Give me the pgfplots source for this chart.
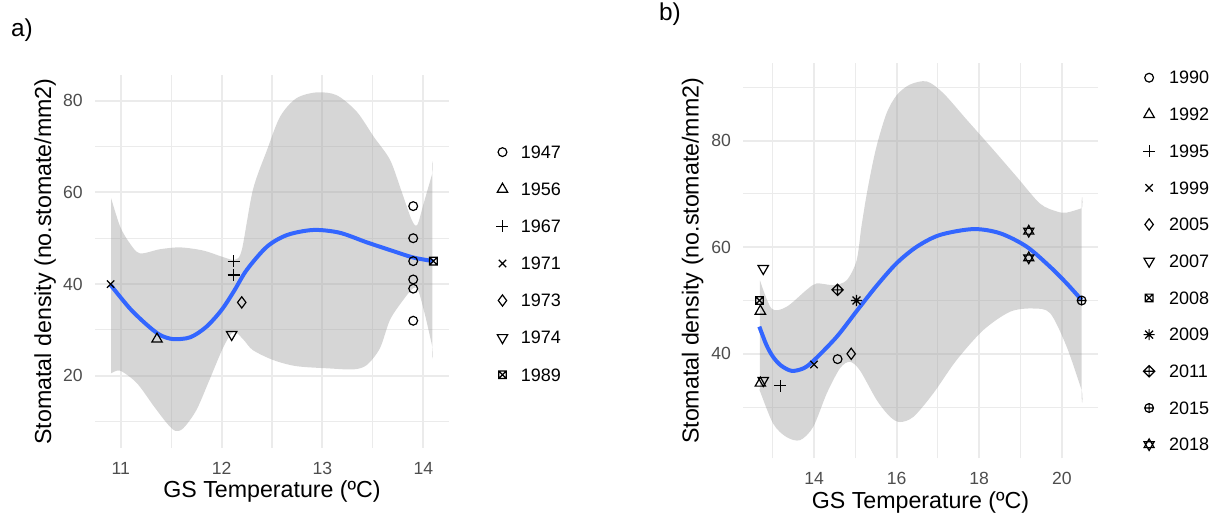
\documentclass[border=0pt]{standalone}
\usepackage{fontspec}
\setmainfont{Liberation Sans}
\usepackage{pgfplots}
\pgfplotsset{compat=1.18}

\definecolor{gridc}{HTML}{EBEBEB}
\definecolor{ticktxt}{HTML}{4D4D4D}
\definecolor{smoothc}{HTML}{3366FF}
\definecolor{bandc}{HTML}{999999}

% ggplot shapes that pgfplots lacks
\pgfdeclareplotmark{dtri}{%
  \pgfpathmoveto{\pgfqpointpolar{-90}{\pgfplotmarksize}}%
  \pgfpathlineto{\pgfqpointpolar{30}{\pgfplotmarksize}}%
  \pgfpathlineto{\pgfqpointpolar{150}{\pgfplotmarksize}}%
  \pgfpathclose\pgfusepathqstroke}
\pgfdeclareplotmark{sqx}{%
  \pgfpathrectangle{\pgfqpoint{-\pgfplotmarksize}{-\pgfplotmarksize}}{\pgfqpoint{2\pgfplotmarksize}{2\pgfplotmarksize}}%
  \pgfpathmoveto{\pgfqpoint{-\pgfplotmarksize}{-\pgfplotmarksize}}\pgfpathlineto{\pgfqpoint{\pgfplotmarksize}{\pgfplotmarksize}}%
  \pgfpathmoveto{\pgfqpoint{-\pgfplotmarksize}{\pgfplotmarksize}}\pgfpathlineto{\pgfqpoint{\pgfplotmarksize}{-\pgfplotmarksize}}%
  \pgfusepathqstroke}
\pgfdeclareplotmark{ast8}{%
  \pgfpathmoveto{\pgfqpointpolar{0}{\pgfplotmarksize}}\pgfpathlineto{\pgfqpointpolar{180}{\pgfplotmarksize}}%
  \pgfpathmoveto{\pgfqpointpolar{45}{\pgfplotmarksize}}\pgfpathlineto{\pgfqpointpolar{225}{\pgfplotmarksize}}%
  \pgfpathmoveto{\pgfqpointpolar{90}{\pgfplotmarksize}}\pgfpathlineto{\pgfqpointpolar{270}{\pgfplotmarksize}}%
  \pgfpathmoveto{\pgfqpointpolar{135}{\pgfplotmarksize}}\pgfpathlineto{\pgfqpointpolar{315}{\pgfplotmarksize}}%
  \pgfusepathqstroke}
\pgfdeclareplotmark{dplus}{%
  \pgfpathmoveto{\pgfqpoint{0pt}{\pgfplotmarksize}}\pgfpathlineto{\pgfqpoint{\pgfplotmarksize}{0pt}}%
  \pgfpathlineto{\pgfqpoint{0pt}{-\pgfplotmarksize}}\pgfpathlineto{\pgfqpoint{-\pgfplotmarksize}{0pt}}\pgfpathclose
  \pgfpathmoveto{\pgfqpoint{0pt}{\pgfplotmarksize}}\pgfpathlineto{\pgfqpoint{0pt}{-\pgfplotmarksize}}%
  \pgfpathmoveto{\pgfqpoint{\pgfplotmarksize}{0pt}}\pgfpathlineto{\pgfqpoint{-\pgfplotmarksize}{0pt}}%
  \pgfusepathqstroke}
\pgfdeclareplotmark{david}{%
  \pgfpathmoveto{\pgfqpointpolar{90}{\pgfplotmarksize}}\pgfpathlineto{\pgfqpointpolar{210}{\pgfplotmarksize}}%
  \pgfpathlineto{\pgfqpointpolar{330}{\pgfplotmarksize}}\pgfpathclose
  \pgfpathmoveto{\pgfqpointpolar{270}{\pgfplotmarksize}}\pgfpathlineto{\pgfqpointpolar{30}{\pgfplotmarksize}}%
  \pgfpathlineto{\pgfqpointpolar{150}{\pgfplotmarksize}}\pgfpathclose
  \pgfusepathqstroke}

\pgfplotsset{
  panel/.style={
    scale only axis,
    axis line style={draw=none},
    major tick length=0pt, minor tick length=0pt,
    grid=both,
    major grid style={draw=gridc, line width=1pt},
    minor grid style={draw=gridc, line width=0.55pt},
    tick label style={font=\fontsize{8.8}{10}\selectfont, text=ticktxt},
    /pgf/number format/assume math mode=true,
    xticklabel style={inner sep=0pt, anchor=north, yshift=-6.75pt},
    yticklabel style={inner sep=0pt, anchor=east, xshift=-6pt},
    xlabel style={at={(axis description cs:0.5,0)}, anchor=base, yshift=-25pt,
      font=\fontsize{11.6}{13}\selectfont},
    ylabel style={anchor=center, font=\fontsize{11.6}{13}\selectfont},
    xlabel={GS Temperature (ºC)},
    ylabel={Stomatal density (no.stomate/mm2)},
    legend cell align=left,
    legend style={draw=none, fill=none, inner sep=0pt, anchor=north west,
      font=\fontsize{9}{10}\selectfont,
      nodes={inner sep=0pt, text depth=0pt}},
    legend image code/.code={\draw[##1] plot coordinates {(0pt,0pt)};},
  },
  pts/.style={only marks, black, line width=0.6pt},
  band/.style={fill=bandc, fill opacity=0.4, draw=none, smooth, forget plot},
}

\begin{document}
\begin{tikzpicture}
\path[use as bounding box] (0,0) rectangle (612pt,259pt);

% ---------------- a) ----------------
\begin{axis}[panel,
  at={(47.5pt,35pt)}, anchor=south west,
  width=177pt, height=186.5pt,
  xmin=10.745, xmax=14.255, ymin=4.25, ymax=85.6,
  xtick={11,12,13,14}, minor xtick={11.5,12.5,13.5},
  ytick={20,40,60,80}, minor ytick={10,30,50,70},
  ylabel style={at={(axis description cs:-0.141,0.5)}},
  legend style={at={(1.133,0.844)}, column sep=6.2pt,
    nodes={minimum height=18.55pt}},
]
\addplot[pts, mark=o, mark size=2.2pt] coordinates {
  (13.9,57) (13.9,50) (13.9,45) (13.9,41) (13.9,39) (13.9,32)};
\addlegendentry{1947}
\addplot[pts, mark=triangle, mark size=3pt] coordinates {(11.36,28)};
\addlegendentry{1956}
\addplot[pts, mark=+, mark size=3pt] coordinates {(12.12,45) (12.12,42)};
\addlegendentry{1967}
\addplot[pts, mark=x, mark size=2.6pt] coordinates {(10.9,40)};
\addlegendentry{1971}
\addplot[pts, mark=diamond, mark size=2.8pt] coordinates {(12.2,36)};
\addlegendentry{1973}
\addplot[pts, mark=dtri, mark size=3pt] coordinates {(12.1,29)};
\addlegendentry{1974}
\addplot[pts, mark=sqx, mark size=1.9pt] coordinates {(14.1,45)};
\addlegendentry{1989}

% confidence band: upper edge left to right, then lower edge right to left
\addplot[band] coordinates {
  (10.905,58.7) (10.995,52.5) (11.09,48.9) (11.19,46.7) (11.39,47.6)
  (11.59,48.0) (11.82,47.3) (12.02,45.85) (12.13,45.3) (12.20,47.4)
  (12.31,60.5) (12.45,69.2) (12.58,76.5) (12.74,80.5) (12.94,81.8)
  (13.14,81.2) (13.34,77.6) (13.51,72.1) (13.67,67.1) (13.78,60.5)
  (13.885,54.0) (13.94,52.9) (14.0,57.3) (14.09,64.2) (14.09,64.2)
  (14.09,26.3) (14.09,26.3) (14.02,33.0) (13.95,38.6) (13.90,39.1)
  (13.80,36.5) (13.67,32.2) (13.57,26.0) (13.44,22.35) (13.31,21.4)
  (13.07,21.6) (12.74,22.1) (12.51,23.45) (12.31,25.6) (12.22,27.8)
  (12.12,29.6) (12.02,26.35) (11.88,19.1) (11.75,12.5) (11.62,8.55)
  (11.54,8.0) (11.46,9.6) (11.33,13.3) (11.16,18.4) (10.995,21.1)
  (10.905,20.55) (10.905,20.55)};
\addplot[smooth, color=smoothc, line width=2pt, forget plot] coordinates {
  (10.90,39.8) (11.09,34.7) (11.26,31.1) (11.39,28.9) (11.52,28.0)
  (11.69,28.4) (11.85,30.7) (12.0,34.35) (12.12,38.35) (12.25,43.1)
  (12.45,48.15) (12.65,50.7) (12.91,51.8) (13.17,51.2) (13.44,49.1)
  (13.70,47.2) (13.90,45.8) (14.10,45.0)};
\end{axis}

% ---------------- b) ----------------
\begin{axis}[panel,
  at={(371.65pt,29.85pt)}, anchor=south west,
  width=177.2pt, height=197.5pt,
  xmin=12.287, xmax=20.87, ymin=20.4, ymax=94.5,
  xtick={14,16,18,20}, minor xtick={13,15,17,19},
  ytick={40,60,80}, minor ytick={30,50,70,90},
  ylabel style={at={(axis description cs:-0.1433,0.5)}},
  legend style={at={(1.127,1.011)}, column sep=7.05pt,
    nodes={minimum height=18.35pt}},
]
\addplot[pts, mark=o, mark size=2.2pt] coordinates {(14.57,39)};
\addlegendentry{1990}
\addplot[pts, mark=triangle, mark size=3pt] coordinates {(12.7,48) (12.7,34.5)};
\addlegendentry{1992}
\addplot[pts, mark=+, mark size=3pt] coordinates {(13.18,34)};
\addlegendentry{1995}
\addplot[pts, mark=x, mark size=2.6pt] coordinates {(14.0,38)};
\addlegendentry{1999}
\addplot[pts, mark=diamond, mark size=2.8pt] coordinates {(14.9,40)};
\addlegendentry{2005}
\addplot[pts, mark=dtri, mark size=3pt] coordinates {(12.77,56) (12.77,35)};
\addlegendentry{2007}
\addplot[pts, mark=sqx, mark size=1.9pt] coordinates {(12.68,50)};
\addlegendentry{2008}
\addplot[pts, mark=ast8, mark size=2.8pt] coordinates {(15.03,50)};
\addlegendentry{2009}
\addplot[pts, mark=dplus, mark size=2.8pt] coordinates {(14.57,52)};
\addlegendentry{2011}
\addplot[pts, mark=oplus, mark size=2.2pt] coordinates {(20.48,50)};
\addlegendentry{2015}
\addplot[pts, mark=david, mark size=2.9pt] coordinates {(19.2,63) (19.2,58)};
\addlegendentry{2018}

\addplot[band] coordinates {
  (12.69,53.8) (12.97,48.5) (13.33,48.8) (13.82,52.0) (14.06,53.2)
  (14.47,52.9) (14.79,53.8) (15.03,57.5) (15.15,64.0) (15.3,71.0)
  (15.5,78.5) (15.75,85.0) (16.0,88.5) (16.32,90.5) (16.73,91.1)
  (17.13,88.9) (17.70,83.9) (18.34,78.3) (18.91,73.2) (19.47,68.2)
  (19.88,66.7) (20.12,66.5) (20.48,67.3) (20.48,67.3)
  (20.48,33.2) (20.48,33.2) (20.12,41.3) (19.72,47.6) (19.31,48.5)
  (18.75,47.9) (18.10,44.45) (17.45,38.8) (16.89,32.6) (16.41,28.2)
  (16.08,27.2) (15.84,28.2) (15.52,31.3) (15.11,36.9) (14.87,38.5)
  (14.63,37.3) (14.31,32.6) (13.98,26.3) (13.66,23.8) (13.33,24.4)
  (13.01,26.9) (12.69,33.0) (12.69,33.0)};
\addplot[smooth, color=smoothc, line width=2pt, forget plot] coordinates {
  (12.675,45.1) (12.85,41.6) (13.01,39.4) (13.2,37.8) (13.46,36.8)
  (13.75,37.3) (14.0,38.8) (14.55,43.2) (15.05,48.2) (15.52,52.8)
  (16.0,57.0) (16.49,60.1) (17.05,62.3) (17.86,63.4) (18.51,62.6)
  (19.15,60.1) (19.72,56.3) (20.12,53.2) (20.48,50.1)};
\end{axis}

\node[font=\fontsize{12.2}{14}\selectfont] at (11pt,244pt) {a)};
\node[font=\fontsize{12.2}{14}\selectfont] at (335pt,252pt) {b)};
\end{tikzpicture}
\end{document}
